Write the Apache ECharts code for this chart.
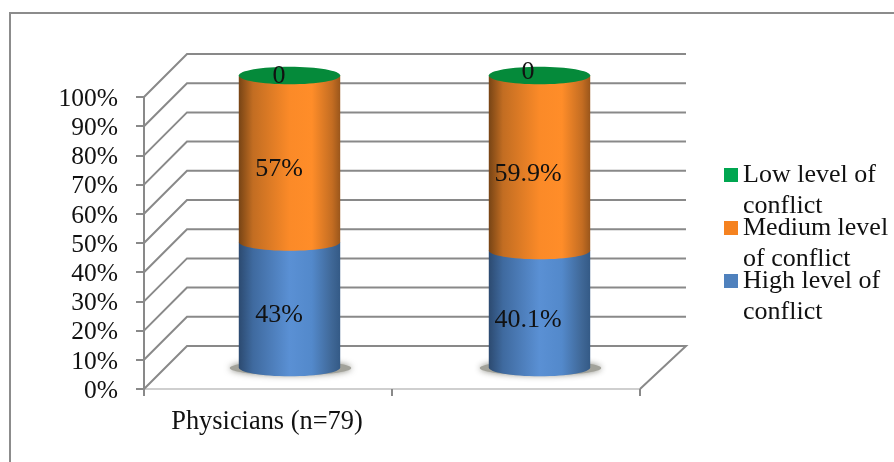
<!DOCTYPE html>
<html>
<head>
<meta charset="utf-8">
<style>html,body{margin:0;padding:0;background:#fff}#chart{width:894px;height:462px}</style>
<script src="https://cdn.jsdelivr.net/npm/echarts@6/dist/echarts.min.js"></script>
</head>
<body>
<div id="chart"></div>
<script>
// Conflict levels among physicians, shown as stacked 3D-style cylinders.
const categories = ['Physicians (n=79)', ''];
const highLevel = [43, 40.1];
const mediumLevel = [57, 59.9];
const lowLevel = [0, 0];
const highLabels = ['43%', '40.1%'];
const mediumLabels = ['57%', '59.9%'];
const lowLabels = ['0', '0'];
const wallTicks = [0, 10, 20, 30, 40, 50, 60, 70, 80, 90, 100];

const SERIF = '"Liberation Serif","Times New Roman",serif';
const DEPTH = 43;
const GRID_GRAY = '#898989';

function shade(stops) {
  return {
    type: 'linear', x: 0, y: 0, x2: 1, y2: 0,
    colorStops: stops.map(s => ({ offset: s[0], color: s[1] }))
  };
}
const blueFill = shade([[0, '#2c4a70'], [0.14, '#3f6a9f'], [0.5, '#5a90d4'], [0.72, '#5389cb'], [0.92, '#3f6796'], [1, '#345a86']]);
const orangeFill = shade([[0, '#774415'], [0.14, '#c26d22'], [0.5, '#fb8a28'], [0.72, '#ff8d29'], [0.92, '#c46d22'], [1, '#9a561b']]);
const greenFill = shade([[0, '#058a3a'], [1, '#058a3a']]);

// Floor and wall lines, projected back from the front plane of the axes.
function renderWalls(params, api) {
  const v = api.value(0);
  const cs = params.coordSys;
  const front = api.coord([0, v]);
  const xL = cs.x;
  const xR = cs.x + cs.width;
  const y = front[1];
  const pts = [[xL, y], [xL + DEPTH, y - DEPTH], [xR + DEPTH + 3, y - DEPTH]];
  if (v === 0) pts.push([xR, y]);
  return {
    type: 'polyline',
    shape: { points: pts },
    style: { stroke: GRID_GRAY, lineWidth: 2, fill: null },
    silent: true
  };
}

// One stacked cylinder slice; base is the summed value of the slices beneath it.
function cylinderRenderer(lowerArrays, fill, labels, isTop) {
  return function (params, api) {
    const i = params.dataIndex;
    const cat = api.value(0);
    const val = api.value(1);
    const base = lowerArrays.reduce((s, a) => s + a[i], 0);
    const pBase = api.coord([cat, base]);
    const pTop = api.coord([cat, base + val]);
    const band = api.size([1, 0])[0];
    const rx = band * 0.2045;
    const ry = 8.8;
    const cx = pBase[0] + DEPTH / 2 + i * 2;
    const yb = pBase[1] - DEPTH / 2;
    const yt = pTop[1] - DEPTH / 2;
    const k = 0.5523;
    const children = [];
    if (base === 0) {
      // Soft contact shadow under the cylinder
      children.push({
        type: 'ellipse',
        shape: { cx: cx + 1, cy: yb + 0.5, rx: rx + 10, ry: ry - 1.5 },
        style: { fill: '#a2a29a', shadowBlur: 6, shadowColor: 'rgba(120,120,110,0.85)' }
      });
    }
    if (val > 0) {
      children.push({
        type: 'path',
        shape: {
          pathData: 'M' + (cx - rx) + ' ' + yt + 'L' + (cx + rx) + ' ' + yt +
            'L' + (cx + rx) + ' ' + yb +
            'C' + (cx + rx) + ' ' + (yb + ry * k) + ' ' + (cx + rx * k) + ' ' + (yb + ry) + ' ' + cx + ' ' + (yb + ry) +
            'C' + (cx - rx * k) + ' ' + (yb + ry) + ' ' + (cx - rx) + ' ' + (yb + ry * k) + ' ' + (cx - rx) + ' ' + yb + 'Z'
        },
        style: { fill: fill }
      });
    }
    if (isTop) {
      children.push({
        type: 'ellipse',
        shape: { cx: cx, cy: yt, rx: rx, ry: ry },
        style: { fill: fill }
      });
    }
    const labelY = isTop ? yt + 1 - i * 4 : (yb + yt) / 2 + ry + 2;
    children.push({
      type: 'text',
      style: {
        text: labels[i], x: cx - 10.5 - i, y: labelY,
        align: 'center', verticalAlign: 'middle',
        font: '26px ' + SERIF, fill: '#111'
      }
    });
    return { type: 'group', children: children };
  };
}

function pairs(arr) { return arr.map((v, i) => [i, v]); }

const chart = echarts.init(document.getElementById('chart'), null, { renderer: 'canvas' });
chart.setOption({
  animation: false,
  backgroundColor: '#ffffff',
  graphic: [{
    type: 'rect',
    silent: true,
    z: -1,
    shape: { x: 10, y: 13, width: 900, height: 470 },
    style: { fill: null, stroke: '#8c8c8c', lineWidth: 2 }
  }],
  grid: { left: 144, top: 97, width: 496, height: 292, containLabel: false },
  legend: {
    orient: 'vertical',
    left: 719,
    top: 123.5,
    itemWidth: 14,
    itemHeight: 14,
    itemGap: -40,
    selectedMode: false,
    icon: 'rect',
    data: ['Low level of conflict', 'Medium level of conflict', 'High level of conflict'],
    formatter: name => ({
      'Low level of conflict': '\nLow level of\nconflict',
      'Medium level of conflict': '\nMedium level\nof conflict',
      'High level of conflict': '\nHigh level of\nconflict'
    })[name],
    textStyle: { fontFamily: SERIF, fontSize: 26, color: '#111', lineHeight: 31 }
  },
  xAxis: {
    type: 'category',
    data: categories,
    axisLine: { lineStyle: { color: '#cfcfcf', width: 2 } },
    axisTick: { show: true, alignWithLabel: false, length: 7, lineStyle: { color: GRID_GRAY, width: 2 } },
    axisLabel: { interval: 0, margin: 20, color: '#111', fontFamily: SERIF, fontSize: 26.4, padding: [0, 2, 0, 0] },
    splitLine: { show: false }
  },
  yAxis: {
    type: 'value',
    min: 0,
    max: 100,
    interval: 10,
    axisLine: { show: true, lineStyle: { color: GRID_GRAY, width: 2 } },
    axisTick: { show: true, length: 8, lineStyle: { color: GRID_GRAY, width: 2 } },
    axisLabel: {
      formatter: v => '{t|' + v + '%}',
      margin: 26,
      rich: { t: { color: '#111', fontFamily: SERIF, fontSize: 25.5, padding: [4, 0, 0, 0] } }
    },
    splitLine: { show: false }
  },
  series: [
    {
      type: 'custom', name: 'walls', silent: true, z: 1,
      renderItem: renderWalls, data: wallTicks.map(v => [v]),
      encode: { x: -1, y: 0 }, clip: false, tooltip: { show: false }
    },
    {
      type: 'custom', name: 'High level of conflict', z: 2, clip: false,
      itemStyle: { color: '#4f81bd' },
      renderItem: cylinderRenderer([], blueFill, highLabels, false),
      data: pairs(highLevel), encode: { x: 0, y: 1 }
    },
    {
      type: 'custom', name: 'Medium level of conflict', z: 3, clip: false,
      itemStyle: { color: '#f58220' },
      renderItem: cylinderRenderer([highLevel], orangeFill, mediumLabels, false),
      data: pairs(mediumLevel), encode: { x: 0, y: 1 }
    },
    {
      type: 'custom', name: 'Low level of conflict', z: 4, clip: false,
      itemStyle: { color: '#00a650' },
      renderItem: cylinderRenderer([highLevel, mediumLevel], greenFill, lowLabels, true),
      data: pairs(lowLevel), encode: { x: 0, y: 1 }
    }
  ]
});
</script>
</body>
</html>
